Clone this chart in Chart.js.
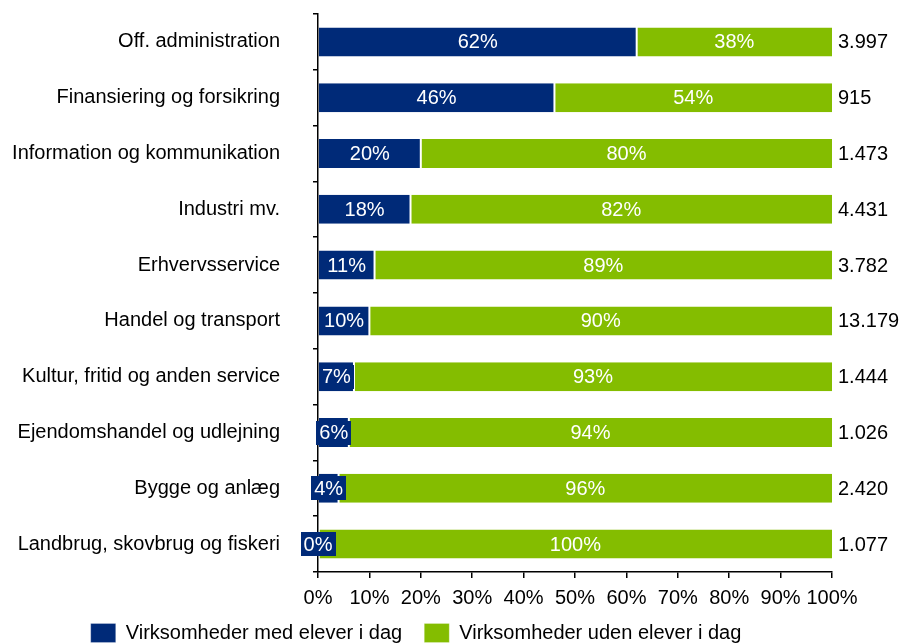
<!DOCTYPE html>
<html>
<head>
<meta charset="utf-8">
<title>Virksomheder med elever</title>
<script src="https://cdn.jsdelivr.net/npm/chart.js@4.4.1/dist/chart.umd.min.js"></script>
<style>
    html, body { margin: 0; padding: 0; background: #fff; }
    #wrap { width: 904px; height: 643px; }
</style>
</head>
<body>
<div id="wrap"><canvas id="myBarChart" width="904" height="643"></canvas></div>
<script>
// data
const categories = [
    'Off. administration',
    'Finansiering og forsikring',
    'Information og kommunikation',
    'Industri mv.',
    'Erhvervsservice',
    'Handel og transport',
    'Kultur, fritid og anden service',
    'Ejendomshandel og udlejning',
    'Bygge og anlæg',
    'Landbrug, skovbrug og fiskeri'
];
const medElever = [62, 46, 20, 18, 11, 10, 7, 6, 4, 0];
const udenElever = [38, 54, 80, 82, 89, 90, 93, 94, 96, 100];
const antal = [3997, 915, 1473, 4431, 3782, 13179, 1444, 1026, 2420, 1077];
const seriesNames = ['Virksomheder med elever i dag', 'Virksomheder uden elever i dag'];
const xTicks = [0, 10, 20, 30, 40, 50, 60, 70, 80, 90, 100];

const BLUE = '#002a78';
const GREEN = '#84bd00';
const FONT = 'Liberation Sans, Arial, sans-serif';

function formatDk(n) {
    return String(n).replace(/\B(?=(\d{3})+(?!\d))/g, '.');
}

// white labels inside the bars + totals to the right
const barLabels = {
    id: 'barLabels',
    afterDatasetsDraw(chart) {
        const ctx = chart.ctx;
        const area = chart.chartArea;
        ctx.save();
        ctx.font = '20px ' + FONT;
        ctx.textBaseline = 'middle';

        chart.data.datasets.forEach((ds, di) => {
            const meta = chart.getDatasetMeta(di);
            meta.data.forEach((bar, i) => {
                const text = Math.round(ds.data[i]) + '%';
                const cx = (bar.x + bar.base) / 2;
                const cy = bar.y;
                const w = ctx.measureText(text).width;
                if (di === 0) {
                    // blue box behind the label so small shares stay readable
                    ctx.fillStyle = BLUE;
                    ctx.fillRect(Math.round(cx - w / 2 - 3), Math.round(cy - 12), Math.round(w + 6), 24);
                }
                ctx.fillStyle = '#fff';
                ctx.textAlign = 'center';
                ctx.fillText(text, cx, cy + 1);
            });
        });

        const meta0 = chart.getDatasetMeta(0);
        ctx.fillStyle = '#000';
        ctx.textAlign = 'left';
        meta0.data.forEach((bar, i) => {
            ctx.fillText(formatDk(antal[i]), area.right + 6, bar.y + 1);
        });
        ctx.restore();
    }
};

const ctx = document.getElementById('myBarChart').getContext('2d');
const myBarChart = new Chart(ctx, {
    type: 'bar',
    data: {
        labels: categories,
        datasets: [
            {
                label: seriesNames[0],
                data: medElever,
                backgroundColor: BLUE,
                borderColor: '#fff',
                borderWidth: { top: 0, bottom: 0, left: 0, right: 1 },
                borderSkipped: false,
                categoryPercentage: 1,
                barPercentage: 0.52
            },
            {
                label: seriesNames[1],
                data: udenElever,
                backgroundColor: GREEN,
                borderColor: '#fff',
                borderWidth: { top: 0, bottom: 0, left: 1, right: 0 },
                borderSkipped: false,
                categoryPercentage: 1,
                barPercentage: 0.52
            }
        ]
    },
    options: {
        indexAxis: 'y',
        responsive: false,
        animation: false,
        layout: {
            padding: { top: 14, right: 72, left: 0, bottom: -10 }
        },
        scales: {
            x: {
                stacked: true,
                min: 0,
                max: 100,
                afterBuildTicks: (scale) => {
                    scale.ticks = xTicks.map(v => ({ value: v }));
                },
                afterFit: (scale) => {
                    scale.height = 40;
                },
                ticks: {
                    color: '#000',
                    font: { family: FONT, size: 20 },
                    padding: 8,
                    maxRotation: 0,
                    autoSkip: false,
                    callback: (v) => v + '%'
                },
                grid: {
                    drawOnChartArea: false,
                    color: '#000',
                    tickLength: 6,
                    lineWidth: 1.5
                },
                border: { color: '#000', width: 1.5 }
            },
            y: {
                stacked: true,
                afterFit: (scale) => {
                    scale.width = 318;
                    scale.paddingTop = 0;
                    scale.paddingBottom = 0;
                },
                ticks: {
                    color: '#000',
                    font: { family: FONT, size: 20 },
                    padding: 33,
                    autoSkip: false
                },
                grid: {
                    offset: true,
                    drawOnChartArea: false,
                    color: '#000',
                    tickLength: 5,
                    lineWidth: 1.5
                },
                border: { color: '#000', width: 1.5 }
            }
        },
        plugins: {
            legend: {
                position: 'bottom',
                labels: {
                    color: '#000',
                    font: { family: FONT, size: 20 },
                    boxWidth: 25,
                    boxHeight: 19,
                    padding: 11,
                    // a bit more room between the two legend items
                    generateLabels: (chart) => {
                        const items = Chart.defaults.plugins.legend.labels.generateLabels(chart);
                        items[0].text = items[0].text + '  ';
                        return items;
                    }
                }
            },
            tooltip: { enabled: false }
        }
    },
    plugins: [barLabels]
});
</script>
</body>
</html>
